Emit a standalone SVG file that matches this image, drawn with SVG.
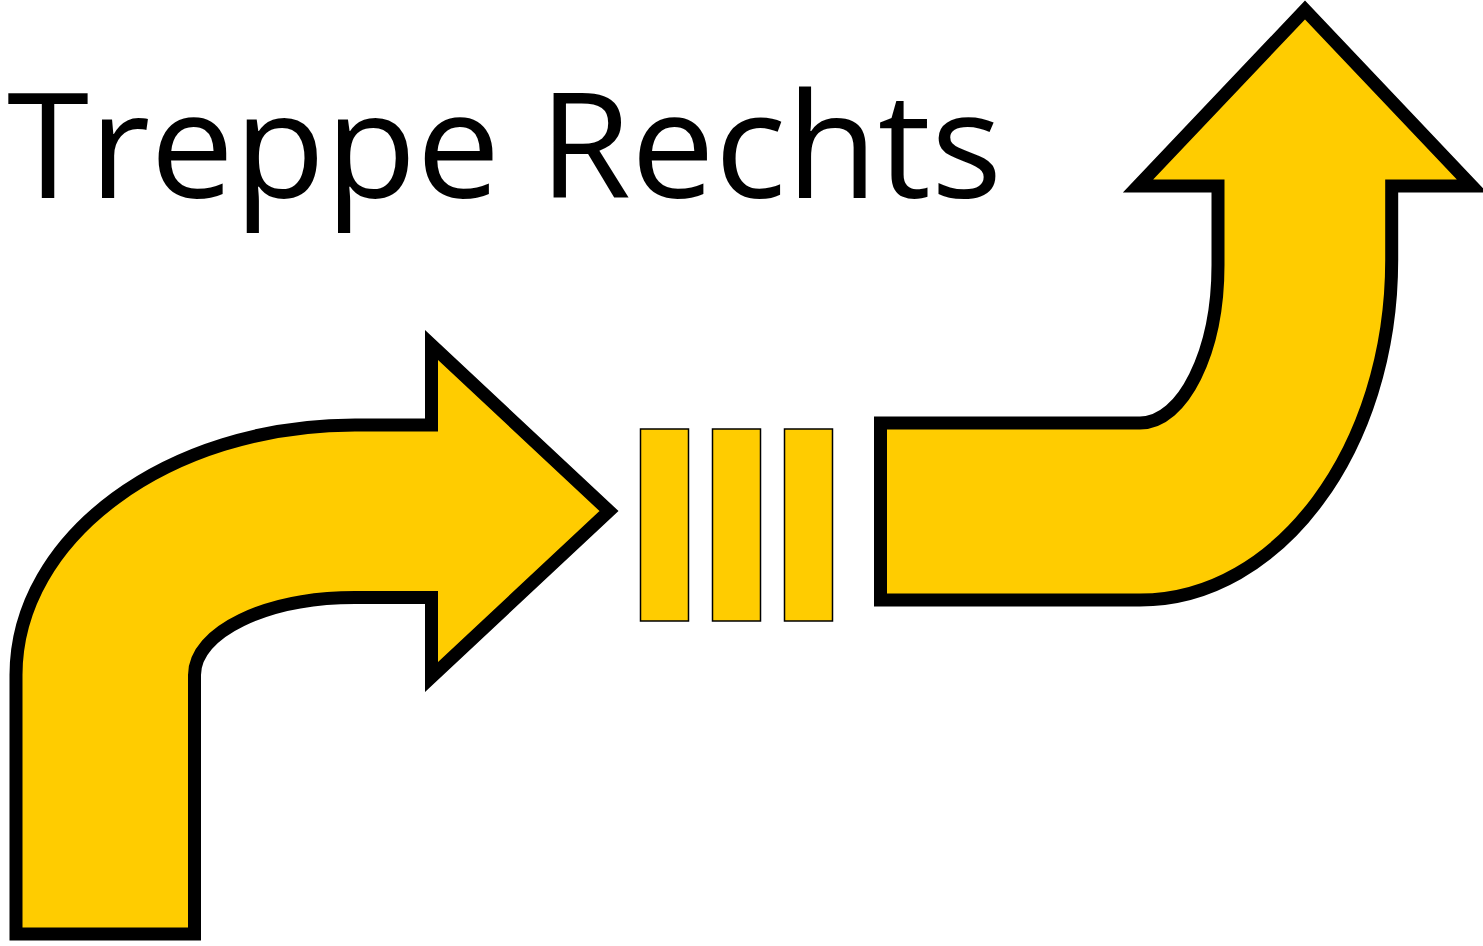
<svg xmlns="http://www.w3.org/2000/svg" width="1483" height="946" viewBox="0 0 1483 946">
  <style>
    .arrow { fill: #FFCC00; stroke: #000000; stroke-width: 13; stroke-miterlimit: 10; stroke-linejoin: miter; }
    .step { fill: #FFCC00; stroke: #000000; stroke-width: 1.5; }
    .title { font-family: "Open Sans", "Liberation Sans", sans-serif; font-size: 147px; fill: #000000; }
  </style>
  <rect width="1483" height="946" fill="#FFFFFF"/>
  <g id="title">
    <text class="title" x="7" y="198" textLength="995" lengthAdjust="spacingAndGlyphs">Treppe Rechts</text>
  </g>
  <g id="arrow-left">
    <path class="arrow" d="M 16 934 L 16 675 C 16 537 168 425 355 425 L 431.5 425 L 431.5 345 L 609 511 L 431.5 677 L 431.5 597.5 L 355 597.5 C 266 597.5 194.5 632 194.5 675 L 194.5 934 Z"/>
  </g>
  <g id="steps">
    <rect class="step" x="640.5" y="429" width="48" height="192"/>
    <rect class="step" x="712.5" y="429" width="48" height="192"/>
    <rect class="step" x="784.5" y="429" width="48" height="192"/>
  </g>
  <g id="arrow-right">
    <path class="arrow" d="M 880.5 423 L 1140 423 C 1183 423 1218 352 1218 265 L 1218 186 L 1138 186 L 1305 10 L 1472 186 L 1391.7 186 L 1391.7 260 C 1391.7 448 1279 600 1140 600 L 880.5 600 Z"/>
  </g>
</svg>
